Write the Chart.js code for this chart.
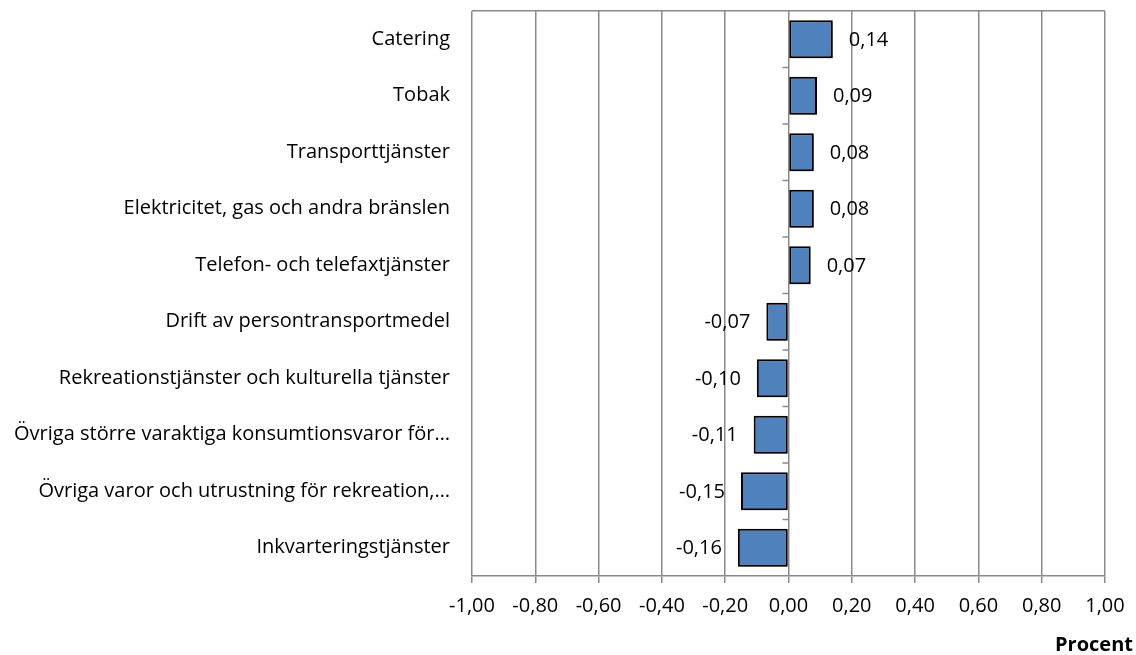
<!DOCTYPE html>
<html>
<head>
<meta charset="utf-8">
<script src="https://cdn.jsdelivr.net/npm/chart.js@4"></script>
<style>
  html, body { margin: 0; padding: 0; background: #fff; }
  #wrap { width: 1136px; height: 655px; }
</style>
</head>
<body>
<div id="wrap"><canvas id="kpiChart" width="1136" height="655"></canvas></div>
<script>
const categories = [
    'Catering',
    'Tobak',
    'Transporttjänster',
    'Elektricitet, gas och andra bränslen',
    'Telefon- och telefaxtjänster',
    'Drift av persontransportmedel',
    'Rekreationstjänster och kulturella tjänster',
    'Övriga större varaktiga konsumtionsvaror för…',
    'Övriga varor och utrustning för rekreation,…',
    'Inkvarteringstjänster'
];
const contributions = [0.14, 0.09, 0.08, 0.08, 0.07, -0.07, -0.10, -0.11, -0.15, -0.16];
const xMin = -1;
const xMax = 1;
const xStep = 0.2;
const axisTitle = 'Procent';

const FONT = "'Open Sans', sans-serif";
const GRID = '#8a8a8a';

function fmt(v) {
    return v.toFixed(2).replace('.', ',');
}

// värdeetiketter, axeltitel och små streck på nollinjen
const extras = {
    id: 'extras',
    beforeDatasetsDraw(chart) {
        const ctx = chart.ctx;
        const x = chart.scales.x;
        const y = chart.scales.y;
        const zero = x.getPixelForValue(0);
        ctx.save();
        ctx.strokeStyle = GRID;
        ctx.lineWidth = 1.5;
        for (let i = 0; i < categories.length - 1; i++) {
            const yy = (y.getPixelForValue(i) + y.getPixelForValue(i + 1)) / 2;
            ctx.beginPath();
            ctx.moveTo(zero - 6, yy);
            ctx.lineTo(zero, yy);
            ctx.stroke();
        }
        ctx.restore();
    },
    beforeDatasetDraw(chart) {
        const ctx = chart.ctx;
        ctx.save();
        ctx.shadowColor = 'rgba(0,0,0,0.35)';
        ctx.shadowOffsetX = 2;
        ctx.shadowOffsetY = 2;
        ctx.shadowBlur = 3;
    },
    afterDatasetDraw(chart) {
        chart.ctx.restore();
    },
    afterDatasetsDraw(chart) {
        const ctx = chart.ctx;
        const meta = chart.getDatasetMeta(0);
        ctx.save();
        ctx.font = '20px ' + FONT;
        ctx.fillStyle = '#000';
        ctx.textBaseline = 'middle';
        meta.data.forEach((bar, i) => {
            const v = contributions[i];
            if (v >= 0) {
                ctx.textAlign = 'left';
                ctx.fillText(fmt(v), bar.x + 16, bar.y + 1);
            } else {
                ctx.textAlign = 'right';
                ctx.fillText(fmt(v), bar.x - 16, bar.y + 1);
            }
        });
        // axeltitel längst ner till höger
        ctx.font = 'bold 20px ' + FONT;
        ctx.textAlign = 'right';
        ctx.fillText(axisTitle, chart.width - 3, chart.scales.x.bottom - 10);
        ctx.restore();
    }
};

new Chart(document.getElementById('kpiChart'), {
    type: 'bar',
    data: {
        labels: categories,
        datasets: [{
            data: contributions,
            backgroundColor: '#4f81bd',
            borderColor: '#000',
            borderWidth: 2,
            borderSkipped: false,
            categoryPercentage: 0.9,
            barPercentage: 0.75
        }]
    },
    options: {
        indexAxis: 'y',
        responsive: false,
        animation: false,
        layout: { padding: { top: 11, right: 31, bottom: 0, left: 0 } },
        plugins: {
            legend: { display: false },
            tooltip: { enabled: false }
        },
        scales: {
            x: {
                min: xMin,
                max: xMax,
                border: { display: true, color: GRID, width: 1.5 },
                grid: {
                    color: GRID,
                    lineWidth: 1.5,
                    drawTicks: true,
                    tickLength: 7,
                    tickColor: GRID
                },
                ticks: {
                    stepSize: xStep,
                    color: '#000',
                    padding: 11,
                    font: { family: FONT, size: 20 },
                    callback: (v) => fmt(v)
                },
                afterFit(scale) { scale.height = 79; }
            },
            y: {
                border: { display: false },
                grid: {
                    drawTicks: false,
                    lineWidth: 1.5,
                    color: (c) => c.index === 0 ? GRID : 'rgba(0,0,0,0)'
                },
                ticks: {
                    color: '#000',
                    padding: 22,
                    font: { family: FONT, size: 20 }
                },
                afterFit(scale) {
                    scale.width = 472;
                    scale.paddingTop = 0;
                    scale.paddingBottom = 0;
                }
            }
        }
    },
    plugins: [extras]
});
</script>
</body>
</html>
